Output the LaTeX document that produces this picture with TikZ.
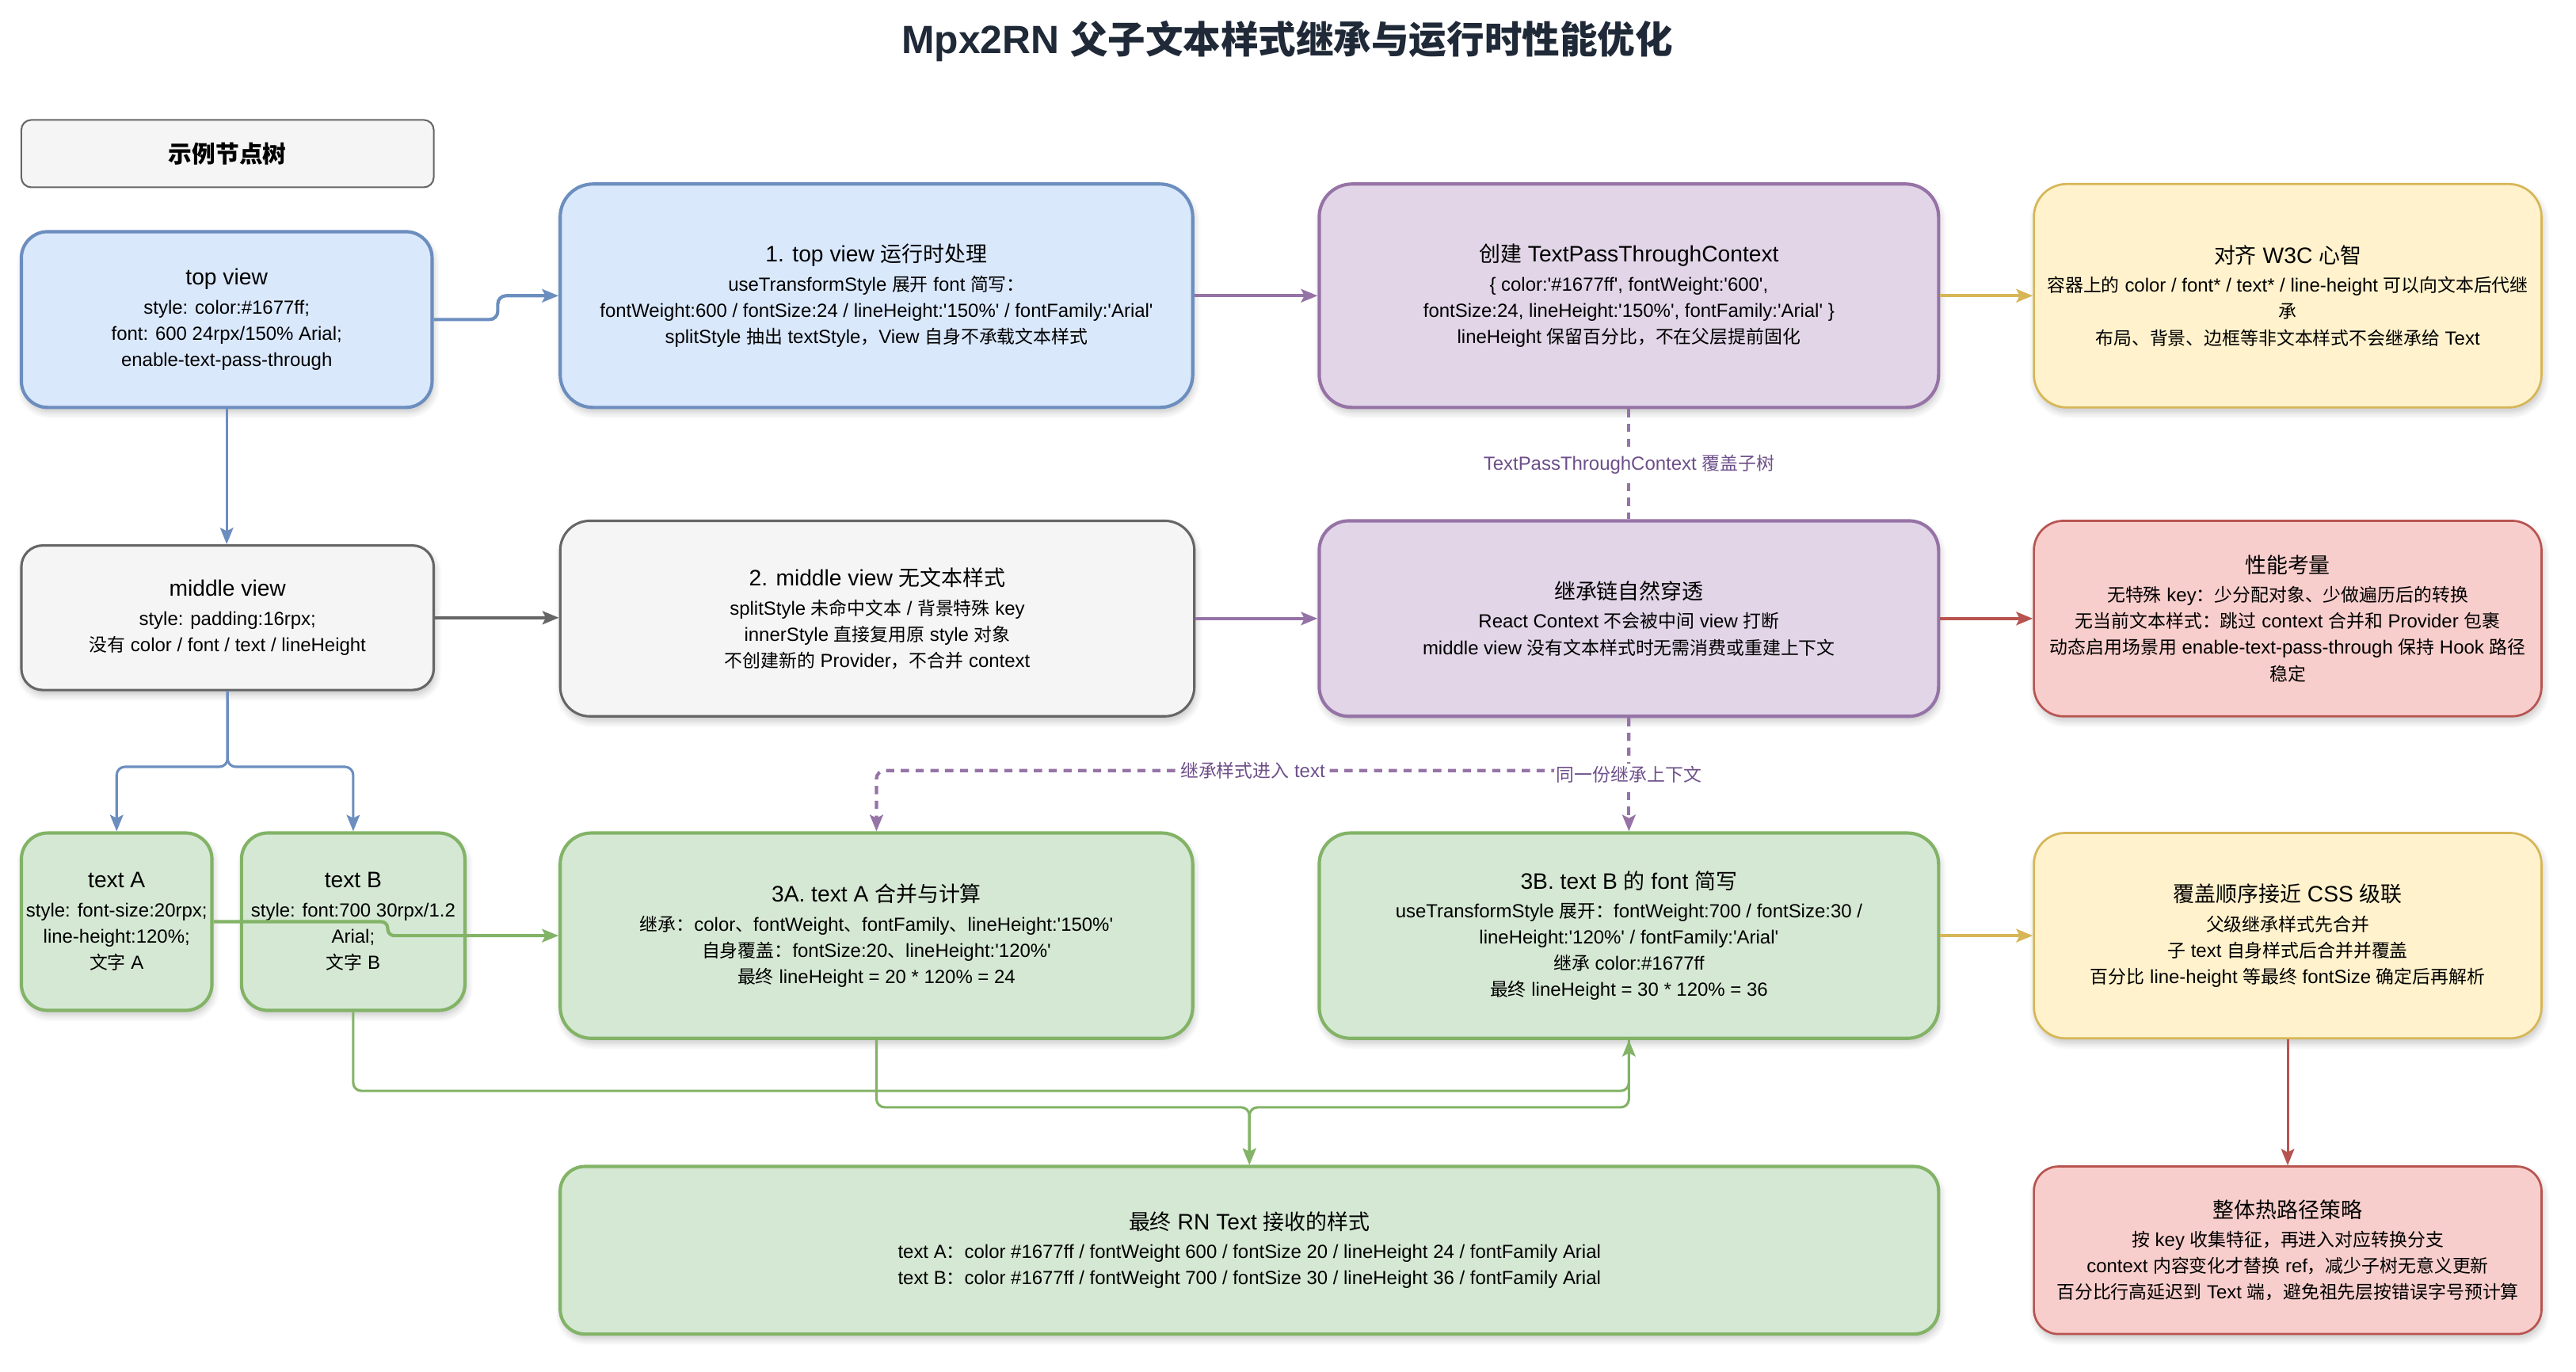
\documentclass[tikz,border=0pt]{standalone}
\usepackage{fontspec}
\newfontfamily\latinfnt{Liberation Sans}
\newfontfamily\cjkfnt[Scale=0.955]{Noto Sans CJK SC}
\usetikzlibrary{arrows.meta,shadows.blur}
% automatic switch Latin <-> CJK font
\XeTeXinterchartokenstate=1
\newXeTeXintercharclass\mycjkclass
\newcount\cjkc
\def\setcjkrange#1#2{\cjkc=#1\relax
  \loop \XeTeXcharclass\cjkc=\mycjkclass\relax
  \ifnum\cjkc<#2\relax \advance\cjkc by 1\relax \repeat}
\setcjkrange{"3000}{"303F}
\setcjkrange{"4E00}{"9FFF}
\setcjkrange{"FF00}{"FFEF}
\XeTeXinterchartoks 0 \mycjkclass = {\cjkfnt}
\XeTeXinterchartoks 4095 \mycjkclass = {\cjkfnt}
\XeTeXinterchartoks \mycjkclass 0 = {\latinfnt}
\XeTeXinterchartoks \mycjkclass 4095 = {\latinfnt}

\definecolor{bF}{HTML}{DAE8FC}\definecolor{bS}{HTML}{6C8EBF}
\definecolor{pF}{HTML}{E1D5E7}\definecolor{pS}{HTML}{9673A6}
\definecolor{yF}{HTML}{FFF2CC}\definecolor{yS}{HTML}{D6B656}
\definecolor{rF}{HTML}{F8CECC}\definecolor{rS}{HTML}{B85450}
\definecolor{gF}{HTML}{D5E8D4}\definecolor{gS}{HTML}{82B366}
\definecolor{kF}{HTML}{F5F5F5}\definecolor{kS}{HTML}{666666}
\definecolor{ttl}{HTML}{1F2937}
\definecolor{lblc}{HTML}{6E4F8A}

\newcommand\hd[1]{{\fontsize{13.6}{16}\selectfont #1}\\[1.5pt]}

\tikzset{
  box/.style={draw, align=center, inner sep=2pt,
    font=\latinfnt\fontsize{11.55}{16}\selectfont,
    blur shadow={shadow xshift=1pt, shadow yshift=-3pt, shadow blur radius=4pt,
      shadow blur steps=6, shadow opacity=22}},
  bluebox/.style={box, fill=bF, draw=bS, line width=2pt},
  purplebox/.style={box, fill=pF, draw=pS, line width=2pt},
  greenbox/.style={box, fill=gF, draw=gS, line width=2pt},
  graybox/.style={box, fill=kF, draw=kS, line width=1.5pt},
  yellowbox/.style={box, fill=yF, draw=yS, line width=1.3pt},
  redbox/.style={box, fill=rF, draw=rS, line width=1.3pt},
  flow/.style={line width=2pt, rounded corners=5pt,
    -{Stealth[length=10pt,width=8pt,inset=2pt]}},
  thinflow/.style={flow, line width=1.5pt},
  dashflow/.style={flow, dash pattern=on 5pt off 4pt},
  lbl/.style={font=\latinfnt\fontsize{11.55}{14}\selectfont, text=lblc,
    fill=white, inner sep=1.5pt},
}

\begin{document}
\begin{tikzpicture}[x=1pt, y=-1pt, font=\latinfnt]
\useasboundingbox (0,0) rectangle (1568,835);

\node[font=\latinfnt\bfseries\fontsize{24}{26}\selectfont, text=ttl] (title)
  at (783.5,25) {Mpx2RN 父子文本样式继承与运行时性能优化};

\node[draw=kS, fill=kF, line width=1pt, rounded corners=6pt,
  minimum width=251pt, minimum height=41pt,
  font=\latinfnt\bfseries\fontsize{15}{16}\selectfont] (tree) at (138.5,93.5) {示例节点树};

% row 1
\node[bluebox, rounded corners=16pt, minimum width=250pt, minimum height=107pt]
  (topview) at (138,194.5)
  {\hd{top view}style: color:\#1677ff;\\font: 600 24rpx/150\% Arial;\\enable-text-pass-through};
\node[bluebox, rounded corners=20pt, minimum width=385pt, minimum height=136pt]
  (step1) at (533.5,180)
  {\hd{1. top view 运行时处理}useTransformStyle 展开 font 简写：\\fontWeight:600 / fontSize:24 / lineHeight:'150\%' / fontFamily:'Arial'\\splitStyle 抽出 textStyle，View 自身不承载文本样式};
\node[purplebox, rounded corners=20pt, minimum width=377pt, minimum height=136pt]
  (ctx) at (991.5,180)
  {\hd{创建 TextPassThroughContext}\{ color:'\#1677ff', fontWeight:'600',\\fontSize:24, lineHeight:'150\%', fontFamily:'Arial' \}\\lineHeight 保留百分比，不在父层提前固化};
\node[yellowbox, rounded corners=20pt, minimum width=309pt, minimum height=136pt]
  (w3c) at (1392.5,180)
  {\hd{对齐 W3C 心智}容器上的 color / font* / text* / line-height 可以向文本后代继\\承\\布局、背景、边框等非文本样式不会继承给 Text};

% row 2
\node[graybox, rounded corners=13pt, minimum width=251pt, minimum height=88pt]
  (middle) at (138.5,376)
  {\hd{middle view}style: padding:16rpx;\\没有 color / font / text / lineHeight};
\node[graybox, rounded corners=18pt, minimum width=386pt, minimum height=119pt]
  (step2) at (534,376.5)
  {\hd{2. middle view 无文本样式}splitStyle 未命中文本 / 背景特殊 key\\innerStyle 直接复用原 style 对象\\不创建新的 Provider，不合并 context};
\node[purplebox, rounded corners=18pt, minimum width=377pt, minimum height=119pt]
  (chain) at (991.5,376.5)
  {\hd{继承链自然穿透}React Context 不会被中间 view 打断\\middle view 没有文本样式时无需消费或重建上下文};
\node[redbox, rounded corners=18pt, minimum width=309pt, minimum height=119pt]
  (perf) at (1392.5,376.5)
  {\hd{性能考量}无特殊 key：少分配对象、少做遍历后的转换\\无当前文本样式：跳过 context 合并和 Provider 包裹\\动态启用场景用 enable-text-pass-through 保持 Hook 路径\\稳定};

% row 3
\node[greenbox, rounded corners=16pt, minimum width=116pt, minimum height=108pt]
  (textA) at (71,561)
  {\hd{text A}style: font-size:20rpx;\\line-height:120\%;\\文字 A};
\node[greenbox, rounded corners=16pt, minimum width=136pt, minimum height=108pt]
  (textB) at (215,561)
  {\hd{text B}style: font:700 30rpx/1.2\\Arial;\\文字 B};
\node[greenbox, rounded corners=19pt, minimum width=385pt, minimum height=125pt]
  (t3A) at (533.5,569.5)
  {\hd{3A. text A 合并与计算}继承：color、fontWeight、fontFamily、lineHeight:'150\%'\\自身覆盖：fontSize:20、lineHeight:'120\%'\\最终 lineHeight = 20 * 120\% = 24};
\node[greenbox, rounded corners=19pt, minimum width=377pt, minimum height=125pt]
  (t3B) at (991.5,569.5)
  {\hd{3B. text B 的 font 简写}useTransformStyle 展开：fontWeight:700 / fontSize:30 /\\lineHeight:'120\%' / fontFamily:'Arial'\\继承 color:\#1677ff\\最终 lineHeight = 30 * 120\% = 36};
\node[yellowbox, rounded corners=19pt, minimum width=309pt, minimum height=125pt]
  (order) at (1392.5,569.5)
  {\hd{覆盖顺序接近 CSS 级联}父级继承样式先合并\\子 text 自身样式后合并并覆盖\\百分比 line-height 等最终 fontSize 确定后再解析};

% row 4
\node[greenbox, rounded corners=15pt, minimum width=839pt, minimum height=102pt]
  (final) at (760.5,761)
  {\hd{最终 RN Text 接收的样式}text A：color \#1677ff / fontWeight 600 / fontSize 20 / lineHeight 24 / fontFamily Arial\\text B：color \#1677ff / fontWeight 700 / fontSize 30 / lineHeight 36 / fontFamily Arial};
\node[redbox, rounded corners=15pt, minimum width=309pt, minimum height=102pt]
  (hot) at (1392.5,761)
  {\hd{整体热路径策略}按 key 收集特征，再进入对应转换分支\\context 内容变化才替换 ref，减少子树无意义更新\\百分比行高延迟到 Text 端，避免祖先层按错误字号预计算};

% connectors
\draw[flow, color=bS] (topview.east) -- ++(39,0) |- (step1.west);
\draw[flow, color=pS] (step1.east) -- (ctx.west);
\draw[flow, color=yS] (ctx.east) -- (w3c.west);
\draw[thinflow, color=bS] (topview.south) -- (topview.south |- middle.north);
\draw[flow, color=kS] (middle.east) -- (middle.east -| step2.west);
\draw[flow, color=pS] (step2.east) -- (chain.west);
\draw[flow, color=rS] (chain.east) -- (perf.west);
\draw[dashflow, color=pS, -] (ctx.south) -- node[lbl] {TextPassThroughContext 覆盖子树} (chain.north);
\draw[thinflow, color=bS] (middle.south) -- ++(0,46) -| (textA.north);
\draw[thinflow, color=bS] (middle.south) -- ++(0,46) -| (textB.north);
\draw[flow, color=gS, rounded corners=4pt] (textA.east) -- ++(106,0) |- (t3A.west);
\draw[dashflow, color=pS] (chain.south) -- ++(0,32) -| node[lbl, pos=0.25] {继承样式进入 text} (t3A.north);
\draw[dashflow, color=pS] (chain.south) -- node[lbl] {同一份继承上下文} (t3B.north);
\draw[flow, color=yS] (t3B.east) -- (order.west);
\draw[thinflow, color=gS] (textB.south) -- ++(0,48) -| (t3B.south);
\draw[thinflow, color=gS] (t3A.south) -- ++(0,41) -| (final.north);
\draw[thinflow, color=gS] (t3B.south) -- ++(0,41) -| (final.north);
\draw[thinflow, color=rS] (order.south) -- (hot.north);
\end{tikzpicture}
\end{document}
